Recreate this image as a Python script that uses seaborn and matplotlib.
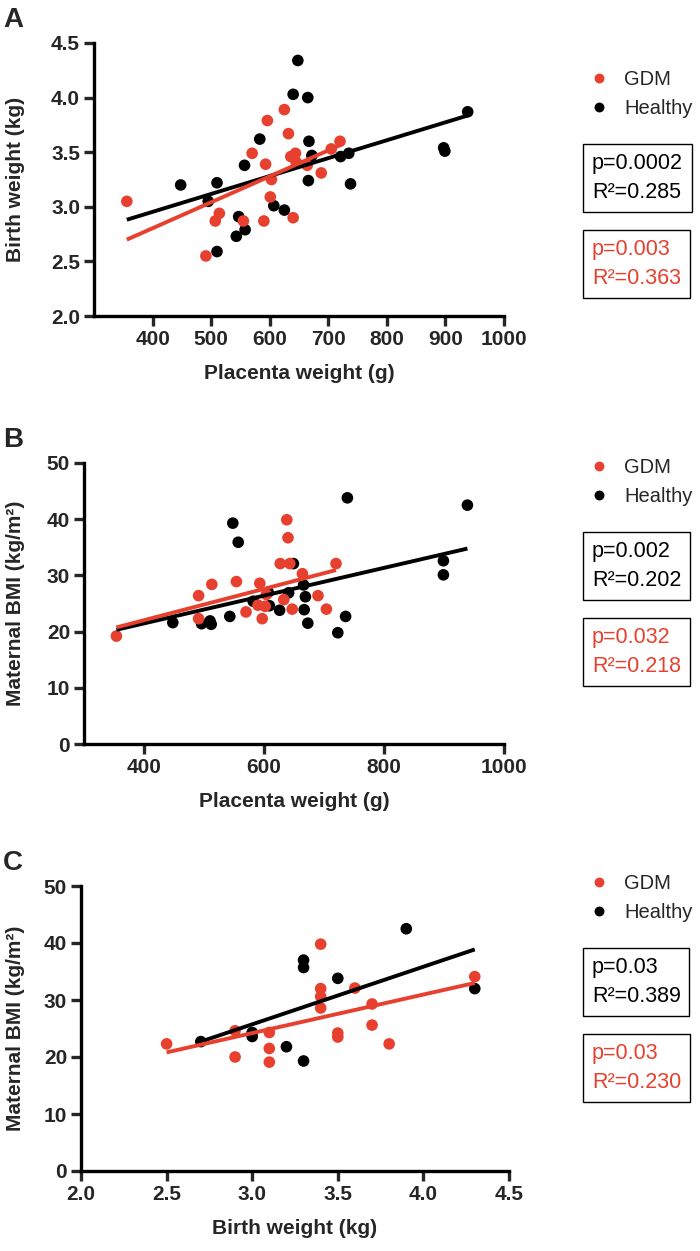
import numpy as np
import pandas as pd
import matplotlib
matplotlib.use("Agg")
import matplotlib.pyplot as plt
import seaborn as sns

RED = "#E8402F"
BLACK = "#000000"
W, H = 700, 1251

# Panel A: placenta weight (g) vs birth weight (kg)
a_gdm_x = [356, 491, 507, 514, 555, 570, 590, 593, 596, 601, 603, 625, 632, 636, 640, 644, 645, 664, 688, 705, 720]
a_gdm_y = [3.05, 2.55, 2.87, 2.94, 2.87, 3.49, 2.87, 3.39, 3.79, 3.09, 3.25, 3.89, 3.67, 3.46, 2.90, 3.49, 3.41, 3.38, 3.31, 3.53, 3.60]
a_hea_x = [448, 495, 510, 510, 543, 547, 558, 557, 583, 607, 625, 640, 648, 665, 667, 672, 666, 721, 735, 738, 897, 899, 938]
a_hea_y = [3.20, 3.05, 3.22, 2.59, 2.73, 2.91, 2.79, 3.38, 3.62, 3.01, 2.97, 4.03, 4.34, 4.00, 3.60, 3.47, 3.24, 3.46, 3.49, 3.21, 3.54, 3.51, 3.87]

# Panel B: placenta weight (g) vs maternal BMI
b_gdm_x = [354, 491, 491, 513, 554, 570, 593, 590, 597, 602, 604, 627, 633, 638, 640, 643, 647, 664, 690, 704, 720]
b_gdm_y = [19.2, 26.4, 22.3, 28.4, 28.9, 23.5, 28.6, 24.7, 22.3, 24.5, 26.6, 32.1, 25.7, 39.9, 36.7, 32.1, 24.0, 30.3, 26.4, 24.0, 32.1]
b_hea_x = [448, 496, 510, 512, 543, 548, 557, 582, 607, 609, 626, 641, 649, 666, 669, 667, 673, 723, 736, 739, 899, 899, 939]
b_hea_y = [21.6, 21.4, 21.9, 21.3, 22.7, 39.3, 35.9, 25.4, 27.0, 24.6, 23.8, 26.9, 32.1, 28.3, 26.2, 23.9, 21.5, 19.8, 22.7, 43.8, 32.6, 30.1, 42.5]

# Panel C: birth weight (kg) vs maternal BMI
c_gdm_x = [2.5, 2.9, 2.9, 3.1, 3.1, 3.1, 3.4, 3.4, 3.4, 3.4, 3.5, 3.5, 3.6, 3.7, 3.7, 3.8, 4.3]
c_gdm_y = [22.3, 24.6, 20.0, 24.3, 21.5, 19.1, 39.8, 32.0, 30.6, 28.6, 24.2, 23.5, 32.1, 29.3, 25.6, 22.3, 34.1]
c_hea_x = [2.7, 3.0, 3.0, 3.2, 3.3, 3.3, 3.3, 3.5, 3.9, 4.3]
c_hea_y = [22.7, 24.3, 23.6, 21.8, 37.0, 35.7, 19.3, 33.8, 42.5, 32.0]

stats_healthy = ["p=0.0002\nR²=0.285", "p=0.002\nR²=0.202", "p=0.03\nR²=0.389"]
stats_gdm = ["p=0.003\nR²=0.363", "p=0.032\nR²=0.218", "p=0.03\nR²=0.230"]

sns.set_style("white")
plt.rcParams["font.family"] = ["Liberation Sans", "DejaVu Sans"]


def fx(x):
    return x / W


def fy(y):
    return 1 - y / H


def fit_line(ax, x, y, lo, hi, color):
    slope, icpt = np.polyfit(x, y, 1)
    xs = np.array([lo, hi])
    sns.lineplot(x=xs, y=icpt + slope * xs, ax=ax, color=color, lw=2.8,
                 solid_capstyle="butt", zorder=5, legend=False)


def panel(ax, gx, gy, hx, hy, span_all):
    df = pd.concat([
        pd.DataFrame({"x": hx, "y": hy, "group": "Healthy"}),
        pd.DataFrame({"x": gx, "y": gy, "group": "GDM"}),
    ], ignore_index=True)
    sns.scatterplot(data=df, x="x", y="y", hue="group", hue_order=["GDM", "Healthy"],
                    palette={"GDM": RED, "Healthy": BLACK}, s=70, linewidth=0,
                    ax=ax, zorder=3)
    lo_h = min(min(gx), min(hx)) if span_all else min(hx)
    fit_line(ax, hx, hy, lo_h, max(hx), BLACK)
    fit_line(ax, gx, gy, min(gx), max(gx), RED)
    for s in ["top", "right"]:
        ax.spines[s].set_visible(False)
    for s in ["left", "bottom"]:
        ax.spines[s].set_linewidth(2.4)
        ax.spines[s].set_color("black")
    ax.tick_params(direction="out", length=7, width=2.4, labelsize=15, pad=3,
                   left=True, bottom=True)


fig = plt.figure(figsize=(7, 12.51), dpi=100)

# axes boxes in pixels: left, right, top, bottom
rects = [(94, 504, 43, 316), (84, 504, 463, 744), (81, 509, 886, 1171)]
# y of the first legend entry per panel
legend_y = [72, 460, 876]
axes = [fig.add_axes([fx(l), fy(b), fx(r - l), (b - t) / H]) for l, r, t, b in rects]

data = [(a_gdm_x, a_gdm_y, a_hea_x, a_hea_y, True),
        (b_gdm_x, b_gdm_y, b_hea_x, b_hea_y, True),
        (c_gdm_x, c_gdm_y, c_hea_x, c_hea_y, False)]

for ax, (gx, gy, hx, hy, span_all) in zip(axes, data):
    panel(ax, gx, gy, hx, hy, span_all)

ax_a, ax_b, ax_c = axes
ax_a.set_xlim(300, 1000)
ax_a.set_xticks([400, 500, 600, 700, 800, 900, 1000])
ax_a.set_ylim(2.0, 4.5)
ax_a.set_yticks([2.0, 2.5, 3.0, 3.5, 4.0, 4.5])
ax_a.set_yticklabels(["2.0", "2.5", "3.0", "3.5", "4.0", "4.5"])
ax_b.set_xlim(300, 1000)
ax_b.set_xticks([400, 600, 800, 1000])
ax_b.set_ylim(0, 50)
ax_b.set_yticks([0, 10, 20, 30, 40, 50])
ax_c.set_xlim(2.0, 4.5)
ax_c.set_xticks([2.0, 2.5, 3.0, 3.5, 4.0, 4.5])
ax_c.set_xticklabels(["2.0", "2.5", "3.0", "3.5", "4.0", "4.5"])
ax_c.set_ylim(0, 50)
ax_c.set_yticks([0, 10, 20, 30, 40, 50])

xlabels = ["Placenta weight (g)", "Placenta weight (g)", "Birth weight (kg)"]
ylabels = ["Birth weight (kg)", "Maternal BMI (kg/m²)", "Maternal BMI (kg/m²)"]
letters = ["A", "B", "C"]

for i, (ax, (l, r, t, b)) in enumerate(zip(axes, rects)):
    for lab in ax.get_xticklabels() + ax.get_yticklabels():
        lab.set_fontweight("bold")
    ax.set_xlabel(xlabels[i], fontsize=15, fontweight="bold", labelpad=11)
    ax.set_ylabel("")
    fig.text(fx(16), fy((t + b) / 2), ylabels[i], rotation=90, ha="center", va="center",
             fontsize=15, fontweight="bold")
    fig.text(fx(3), fy(t - 36), letters[i], ha="left", va="top", fontsize=20, fontweight="bold")

    gy0 = legend_y[i]
    handles, labels = ax.get_legend_handles_labels()
    ax.legend(handles, labels, loc="upper left", bbox_to_anchor=(fx(582), fy(gy0 - 12)),
              bbox_transform=fig.transFigure, frameon=False, fontsize=14.5,
              markerscale=0.85, handlelength=0.7, handletextpad=0.9,
              labelspacing=0.5, borderpad=0)

    fig.text(fx(592), fy(gy0 + 106), stats_healthy[i], ha="left", va="center", fontsize=15.5,
             color=BLACK, linespacing=1.55,
             bbox=dict(boxstyle="square,pad=0.4", fc="white", ec="black", lw=1.0))
    fig.text(fx(592), fy(gy0 + 192), stats_gdm[i], ha="left", va="center", fontsize=15.5,
             color=RED, linespacing=1.55,
             bbox=dict(boxstyle="square,pad=0.4", fc="white", ec="black", lw=1.0))

fig.savefig("out.png", dpi=100)
